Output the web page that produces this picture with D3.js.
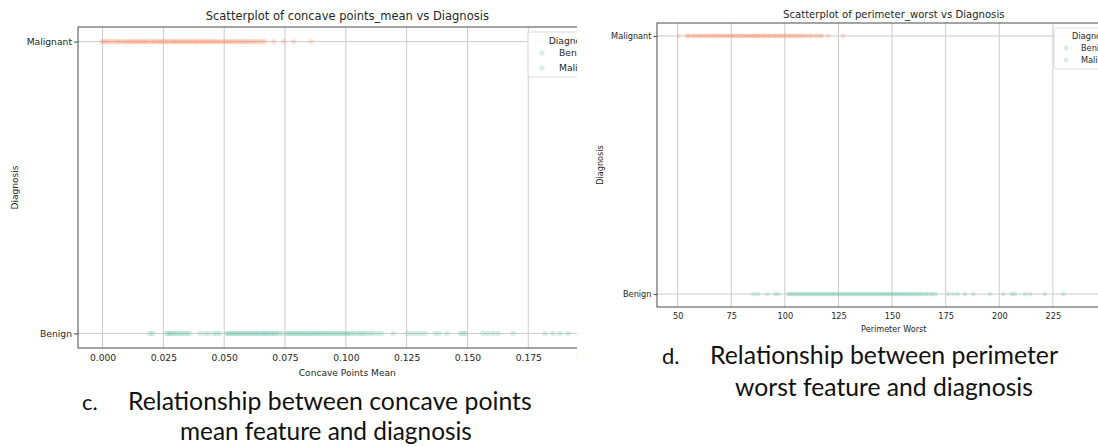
<!DOCTYPE html>
<html>
<head>
<meta charset="utf-8">
<script src="https://cdn.jsdelivr.net/npm/d3@7"></script>
<style>
  body { margin: 0; background: #fff; }
  svg { display: block; }
  text { font-family: "DejaVu Sans", sans-serif; fill: #262626; }
  .caption { font-family: Lato, "Open Sans", sans-serif; fill: #111; }
</style>
</head>
<body>
<svg id="chart"></svg>
<script>
const categories = ["Malignant", "Benign"]
const legendLabels = ["Benign", "Malignant"]

// concave points_mean
const concaveMalignant = [0, 0.0004, 0.0013, 0.0022, 0.0031, 0.0043, 0.0051, 0.0062, 0.0069, 0.0078, 0.0089, 0.0097,
  0.0106, 0.0113, 0.0121, 0.0132, 0.0138, 0.0147, 0.0155, 0.0163, 0.0171, 0.0178, 0.0186, 0.0197, 0.0204, 0.0212,
  0.0219, 0.0228, 0.0236, 0.0241, 0.0249, 0.0258, 0.0266, 0.0273, 0.0284, 0.0291, 0.0297, 0.0306, 0.0315, 0.0322,
  0.0331, 0.0338, 0.0347, 0.0355, 0.0362, 0.0371, 0.0379, 0.0386, 0.0394, 0.0403, 0.0411, 0.0418, 0.0427, 0.0435,
  0.0442, 0.0451, 0.0459, 0.0468, 0.0476, 0.0483, 0.0492, 0.0501, 0.0509, 0.0517, 0.0526, 0.0534, 0.0543, 0.0551,
  0.0562, 0.0569, 0.0578, 0.0587, 0.0596, 0.0605, 0.0613, 0.0624, 0.0633, 0.0645, 0.0656, 0.0667, 0.0704, 0.0745,
  0.0786, 0.0856]
const concaveBenign = [0.0195, 0.0207, 0.0264, 0.0271, 0.0279, 0.0288, 0.0297, 0.0305, 0.0318, 0.0326, 0.0338,
  0.0347, 0.0359, 0.0400, 0.0421, 0.0437, 0.0457, 0.0469, 0.0482, 0.0511, 0.0518, 0.0526, 0.0533, 0.0541, 0.0549,
  0.0556, 0.0564, 0.0572, 0.0579, 0.0587, 0.0596, 0.0603, 0.0611, 0.0619, 0.0627, 0.0634, 0.0642, 0.0651, 0.0659,
  0.0667, 0.0674, 0.0682, 0.0691, 0.0699, 0.0708, 0.0717, 0.0726, 0.0741, 0.0758, 0.0765, 0.0773, 0.0781, 0.0789,
  0.0797, 0.0806, 0.0814, 0.0822, 0.0831, 0.0839, 0.0847, 0.0856, 0.0864, 0.0872, 0.0881, 0.0889, 0.0897, 0.0906,
  0.0914, 0.0923, 0.0931, 0.0940, 0.0949, 0.0958, 0.0967, 0.0976, 0.0985, 0.0994, 0.1003, 0.1012, 0.1021, 0.1034,
  0.1047, 0.1058, 0.1069, 0.1078, 0.1091, 0.1104, 0.1117, 0.1133, 0.1148, 0.1194, 0.1252, 0.1271, 0.1289, 0.1308,
  0.1326, 0.1367, 0.1384, 0.1416, 0.1472, 0.1482, 0.1493, 0.1563, 0.1582, 0.1603, 0.1625, 0.1687, 0.1819, 0.1851,
  0.1880, 0.1913, 0.2012]
const concaveTicks = [0, 0.025, 0.05, 0.075, 0.1, 0.125, 0.15, 0.175, 0.2]

// perimeter_worst
const perimeterMalignant = [50.4, 54.2, 54.9, 56.1, 57.3, 58.0, 59.2, 60.1, 60.9, 62.0, 62.8, 63.9, 64.6, 65.7,
  66.4, 67.3, 68.3, 68.9, 69.8, 70.7, 71.4, 72.3, 73.2, 73.8, 74.7, 75.6, 76.2, 77.1, 78.0, 78.6, 79.5, 80.4, 81.0,
  81.9, 82.8, 83.4, 84.3, 85.2, 85.8, 86.7, 87.6, 88.2, 89.1, 90.0, 90.6, 91.5, 92.5, 93.1, 94.0, 94.9, 95.6, 96.5,
  97.4, 98.1, 99.0, 100.0, 100.7, 101.8, 102.5, 103.6, 104.3, 105.5, 106.2, 107.4, 108.1, 109.4, 110.2, 111.6,
  112.5, 114.0, 115.1, 116.5, 117.3, 120.1, 127.1]
const perimeterBenign = [85.3, 87.3, 91.8, 95.4, 96.9, 101.5, 102.3, 103.4, 104.1, 105.2, 105.9, 107.0, 107.7,
  108.8, 109.5, 110.6, 111.3, 112.4, 113.1, 114.2, 114.9, 116.0, 116.7, 117.8, 118.5, 119.6, 120.3, 121.4, 122.1,
  123.2, 123.9, 125.0, 125.7, 126.8, 127.5, 128.6, 129.3, 130.4, 131.1, 132.2, 132.9, 134.0, 134.7, 135.8, 136.5,
  137.6, 138.3, 139.4, 140.1, 141.2, 141.9, 143.0, 143.7, 144.8, 145.5, 146.6, 147.3, 148.4, 149.1, 150.2, 150.9,
  152.0, 152.7, 153.8, 154.5, 155.6, 156.3, 157.4, 158.1, 159.2, 160.1, 161.2, 162.0, 163.3, 164.1, 165.6, 166.5,
  168.1, 169.0, 170.3, 176.2, 178.5, 180.6, 184.0, 187.9, 195.7, 201.9, 205.8, 207.2, 212.0, 214.3, 221.3, 229.8,
  251.2]
const perimeterTicks = [50, 75, 100, 125, 150, 175, 200, 225]

const orange = "#fc8d62"
const green = "#66c2a5"

const svg = d3.select("#chart").attr("width", 1098).attr("height", 447)

function drawPanel(p) {
    const g = svg.append("g")
    if (p.clipRight) {
        svg.append("clipPath").attr("id", p.id + "-clip")
            .append("rect").attr("x", 0).attr("y", 0).attr("width", p.clipRight).attr("height", 447)
        g.attr("clip-path", `url(#${p.id}-clip)`)
    }
    const x = d3.scaleLinear().domain(p.domain).range([p.left, p.right])
    const y = d3.scalePoint().domain(categories).range([p.top, p.bottom]).padding(0.05)
    const fs = p.fontSize

    // grid
    g.append("g").selectAll("line").data(p.ticks).join("line")
        .attr("x1", d => x(d)).attr("x2", d => x(d))
        .attr("y1", p.top).attr("y2", p.bottom)
        .attr("stroke", "#cccccc").attr("stroke-width", 1)
    g.append("g").selectAll("line").data(categories).join("line")
        .attr("x1", p.left).attr("x2", p.right)
        .attr("y1", d => y(d)).attr("y2", d => y(d))
        .attr("stroke", "#cccccc").attr("stroke-width", 1)

    // points
    const pts = p.malignant.map(v => ({v: v, c: "Malignant", col: orange}))
        .concat(p.benign.map(v => ({v: v, c: "Benign", col: green})))
    g.append("g").selectAll("circle").data(pts).join("circle")
        .attr("cx", d => x(d.v)).attr("cy", d => y(d.c)).attr("r", p.r)
        .attr("fill", d => d.col).attr("fill-opacity", 0.26)

    // frame
    g.append("rect").attr("x", p.left).attr("y", p.top)
        .attr("width", p.right - p.left).attr("height", p.bottom - p.top)
        .attr("fill", "none").attr("stroke", "#4a4a4a").attr("stroke-width", 1)

    // x axis
    const xa = g.append("g").attr("transform", `translate(0,${p.bottom})`)
        .call(d3.axisBottom(x).tickValues(p.ticks).tickFormat(p.fmt).tickSize(0).tickPadding(p.tickPad))
    xa.select(".domain").remove()
    xa.selectAll("text").style("font-size", fs.tick + "px").attr("fill", "#262626")

    // y axis
    const ya = g.append("g").attr("transform", `translate(${p.left},0)`)
        .call(d3.axisLeft(y).tickSize(p.ytick).tickPadding(2))
    ya.select(".domain").remove()
    ya.selectAll("line").attr("stroke", "#4a4a4a")
    ya.selectAll("text").style("font-size", fs.tick + "px").attr("fill", "#262626")

    // titles
    const cx = (p.left + p.right) / 2
    g.append("text").attr("x", cx).attr("y", p.titleY).attr("text-anchor", "middle")
        .style("font-size", fs.title + "px").text(p.title)
    g.append("text").attr("x", cx).attr("y", p.xlabelY).attr("text-anchor", "middle")
        .style("font-size", fs.label + "px").text(p.xlabel)
    g.append("text").attr("transform", `translate(${p.ylabelX},${(p.top + p.bottom) / 2}) rotate(-90)`)
        .attr("text-anchor", "middle").style("font-size", fs.label + "px").text("Diagnosis")

    // legend
    const lg = g.append("g").attr("transform", `translate(${p.legend.x},${p.legend.y})`)
    lg.append("rect").attr("width", p.legend.w).attr("height", p.legend.h).attr("rx", 2.5)
        .attr("fill", "#fff").attr("fill-opacity", 0.85).attr("stroke", "#dadada")
    lg.append("text").attr("x", p.legend.w / 2).attr("y", p.legend.titleY).attr("text-anchor", "middle")
        .style("font-size", fs.tick + "px").text("Diagnosis")
    lg.selectAll("circle.key").data(legendLabels).join("circle").attr("class", "key")
        .attr("cx", p.legend.mx).attr("cy", (d, i) => p.legend.row0 + i * p.legend.step).attr("r", p.r)
        .attr("fill", green).attr("fill-opacity", 0.26)
    lg.selectAll("text.key").data(legendLabels).join("text").attr("class", "key")
        .attr("x", p.legend.tx).attr("y", (d, i) => p.legend.row0 + i * p.legend.step)
        .attr("dy", "0.35em").style("font-size", fs.tick + "px").text(d => d)
}

drawPanel({
    id: "c", malignant: concaveMalignant, benign: concaveBenign, ticks: concaveTicks,
    fmt: d3.format(".3f"), domain: [-0.0101, 0.2113],
    left: 78, right: 616.6, top: 27, bottom: 348, clipRight: 577,
    r: 2.7, ytick: 4, tickPad: 6,
    fontSize: {title: 11.5, tick: 9.2, label: 9.1},
    titleY: 20, xlabelY: 376, ylabelX: 18,
    title: "Scatterplot of concave points_mean vs Diagnosis", xlabel: "Concave Points Mean",
    legend: {x: 528, y: 32, w: 86, h: 45, titleY: 12, mx: 14, tx: 31, row0: 21, step: 15}
})

drawPanel({
    id: "d", malignant: perimeterMalignant, benign: perimeterBenign, ticks: perimeterTicks,
    fmt: d3.format("d"), domain: [40.37, 261.2],
    left: 657, right: 1130.5, top: 23, bottom: 307,
    r: 2.4, ytick: 3.5, tickPad: 6,
    fontSize: {title: 10.1, tick: 8.2, label: 8.1},
    titleY: 18, xlabelY: 332, ylabelX: 603,
    title: "Scatterplot of perimeter_worst vs Diagnosis", xlabel: "Perimeter Worst",
    legend: {x: 1054, y: 28, w: 76, h: 41, titleY: 10.5, mx: 12, tx: 27, row0: 20, step: 12}
})

// captions under each panel
const captions = [
    {label: "c.", lx: 82, tx: 128, y: 410, text: "Relationship between concave points", w: 404},
    {label: "", lx: 0, tx: 180, y: 440, text: "mean feature and diagnosis", w: 292},
    {label: "d.", lx: 662, tx: 710, y: 364, text: "Relationship between perimeter", w: 348},
    {label: "", lx: 0, tx: 735, y: 396, text: "worst feature and diagnosis", w: 298}
]
captions.forEach(c => {
    if (c.label) {
        svg.append("text").attr("class", "caption").attr("x", c.lx).attr("y", c.y)
            .style("font-size", "22px").text(c.label)
    }
    const t = svg.append("text").attr("class", "caption").attr("x", c.tx).attr("y", c.y)
        .style("font-size", "22px").text(c.text)
    const len = t.node().getComputedTextLength()
    t.style("font-size", (22 * c.w / len).toFixed(2) + "px")
})
</script>
</body>
</html>
